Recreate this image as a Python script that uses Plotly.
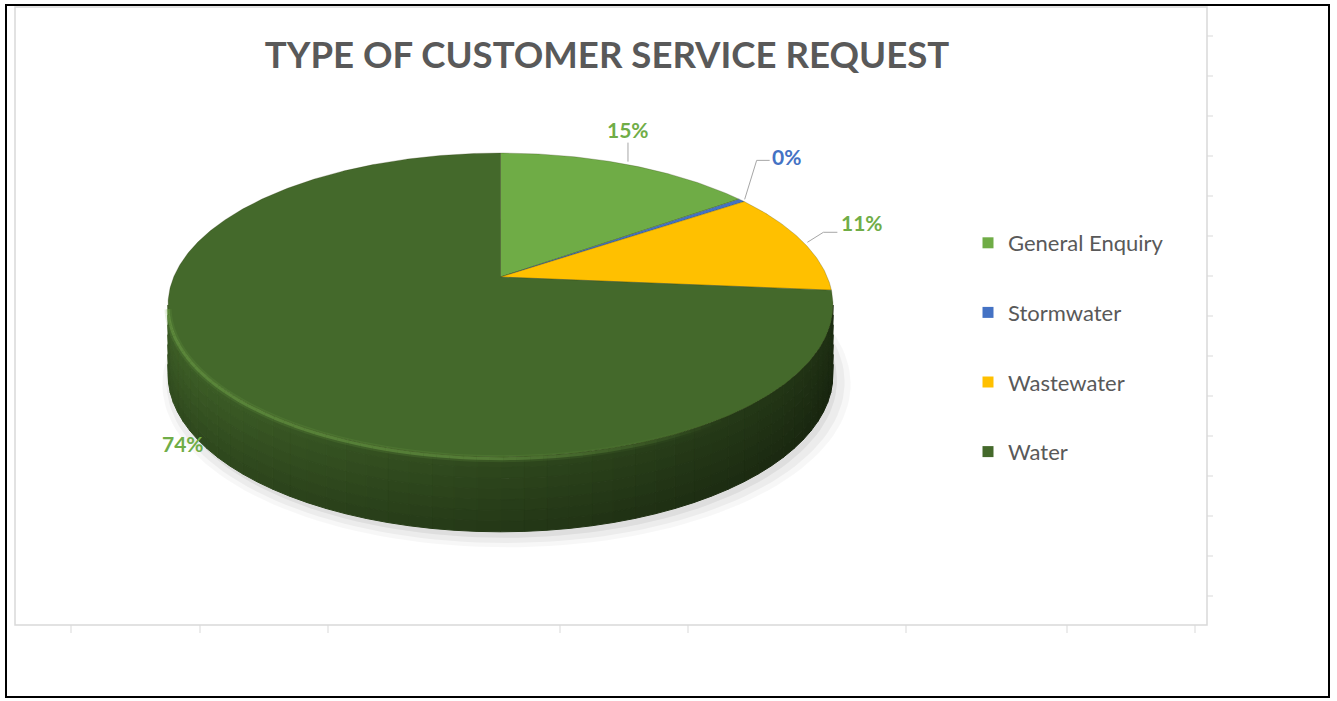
import math
import numpy as np
import plotly.graph_objects as go

# ---------------- data ----------------
categories = ["General Enquiry", "Stormwater", "Wastewater", "Water"]
values = [15.0, 0.4, 11.0, 73.6]
slice_colors = ["#6FAC46", "#4472C4", "#FFC000", "#44692B"]
label_colors = ["#70AD47", "#4472C4", "#70AD47", "#70AD47"]

# ---------------- style / geometry (pixel space) ----------------
W, H = 1337, 701
CX, CY = 500.5, 305.0      # centre of the top-face ellipse
RX, RY = 332.5, 152.0      # semi-axes of the top-face ellipse
K = 0.184                  # perspective strength
DEPTH = 68.0               # side thickness
A_NORM = 1.0 / math.sqrt(1 - K * K)

# label layout relative to the slice anchor point on the rim: (leader points, text offset)
label_layout = [
    ([(0, -3), (0, -22)], (0, -35)),
    ([(3, -1), (15, -40), (28, -40)], (45, -44)),
    ([(5, 1), (21, -9), (35, -9)], (60, -19)),
    ([], (-42, 53)),
]


def proj(theta_deg, rim=1.0, down=0.0):
    th = math.radians(theta_deg)
    u, v = rim * math.sin(th), rim * math.cos(th)
    w = 1 + K * v
    s = u / w
    t = (v + K) / w
    x = CX + RX * s / A_NORM
    y = CY - RY * t
    depth = down * (1 - 0.1 * v)
    return x, y + depth


def hexrgb(h):
    h = h.lstrip("#")
    return tuple(int(h[i:i + 2], 16) for i in (0, 2, 4))


def shade(h, f):
    r, g, b = hexrgb(h)
    return "rgb(%d,%d,%d)" % (min(255, r * f), min(255, g * f), min(255, b * f))


total = sum(values)
bounds = [0.0]
for v in values:
    bounds.append(bounds[-1] + 360.0 * v / total)

fig = go.Figure()

# ---- soft shadow ----
for grow, dx, dy, op in [(1.035, 6, 10, 0.03), (1.02, 5, 8, 0.045), (1.0, 4, 6, 0.06)]:
    xs, ys = [], []
    for a in np.linspace(0, 360, 181):
        x, y = proj(a, rim=1.0, down=DEPTH)
        xs.append(CX + (x - CX) * grow + dx)
        ys.append(CY + DEPTH + (y - CY - DEPTH) * grow + dy)
    fig.add_trace(go.Scatter(x=xs, y=ys, fill="toself", mode="lines",
                             line=dict(width=0), fillcolor="rgba(0,0,0,%.3f)" % op,
                             hoverinfo="skip", showlegend=False))

# ---- side of the cylinder (visible front part), shaded strips ----
samp = np.linspace(0, 360, 3601)
xs_rim = [proj(a)[0] for a in samp]
th_r = samp[int(np.argmax(xs_rim))]
th_l = samp[int(np.argmin(xs_rim))]
N = 48
edges = np.linspace(th_r, th_l, N + 1)
NB = 7
band_edges = np.linspace(0, 1, NB + 1)


def slice_at(theta):
    for i in range(len(values)):
        if bounds[i] <= theta % 360 < bounds[i + 1]:
            return i
    return len(values) - 1


for i in range(N):
    a0, a1 = edges[i], edges[i + 1]
    am = 0.5 * (a0 + a1)
    idx = slice_at(am)
    f = 0.45 + 0.5 * ((-math.sin(math.radians(am))) + 1) / 2
    arc = np.linspace(a0, a1, 4)
    for j in range(NB):
        b0, b1 = band_edges[j], band_edges[j + 1]
        g = 1.0 - 0.24 * (0.5 * (b0 + b1))
        top = [proj(a, down=DEPTH * b0) for a in arc]
        bot = [proj(a, down=DEPTH * b1) for a in arc[::-1]]
        pts = top + bot + [top[0]]
        col = shade(slice_colors[idx], f * g)
        fig.add_trace(go.Scatter(x=[p[0] for p in pts], y=[p[1] for p in pts],
                                 fill="toself", mode="lines", fillcolor=col,
                                 line=dict(width=1, color=col),
                                 hoverinfo="skip", showlegend=False))

# ---- top face slices ----
cx0, cy0 = proj(0, rim=0.0)
for i, cat in enumerate(categories):
    arc = np.linspace(bounds[i], bounds[i + 1], max(3, int((bounds[i + 1] - bounds[i]) * 2) + 2))
    pts = [(cx0, cy0)] + [proj(a) for a in arc] + [(cx0, cy0)]
    fig.add_trace(go.Scatter(x=[p[0] for p in pts], y=[p[1] for p in pts],
                             fill="toself", mode="lines", fillcolor=slice_colors[i],
                             line=dict(width=0.8, color="rgba(40,50,10,0.3)"),
                             hoverinfo="skip", showlegend=False, name=cat))

# ---- rim highlight (bevel), fading towards the right ----
hl_angles = np.linspace(145, th_l - 1, 60)
for k in range(len(hl_angles) - 1):
    seg = [proj(a, down=1.5) for a in np.linspace(hl_angles[k], hl_angles[k + 1], 3)]
    fade = min(1.0, (k + 1) / 20.0)
    for wdt, op in [(7, 0.16), (3, 0.45)]:
        fig.add_trace(go.Scatter(x=[p[0] for p in seg], y=[p[1] for p in seg], mode="lines",
                                 line=dict(width=wdt, color="#74A84C"), opacity=op * fade,
                                 hoverinfo="skip", showlegend=False))

# ---- data labels with leader lines ----
annotations = []
for i, cat in enumerate(categories):
    mid = 0.5 * (bounds[i] + bounds[i + 1])
    ax_, ay_ = proj(mid)
    leader, toff = label_layout[i]
    if leader:
        fig.add_trace(go.Scatter(x=[ax_ + p[0] for p in leader], y=[ay_ + p[1] for p in leader],
                                 mode="lines", line=dict(width=1, color="#A6A6A6"),
                                 hoverinfo="skip", showlegend=False))
    pct = round(100 * values[i] / total)
    annotations.append(dict(x=ax_ + toff[0], y=ay_ + toff[1], xref="x", yref="y",
                            text="<b>%d%%</b>" % pct, showarrow=False,
                            font=dict(family="Lato, Noto Sans, sans-serif", size=21,
                                      color=label_colors[i]),
                            xanchor="center", yanchor="middle"))

# ---- legend entries ----
for i, cat in enumerate(categories):
    fig.add_trace(go.Scatter(x=[None], y=[None], mode="markers", name=cat,
                             legendgroup=cat,
                             marker=dict(symbol="square", size=11, color=slice_colors[i],
                                         line=dict(width=0))))

# ---- frame / chart-area decorations ----
shapes = []
shapes.append(dict(type="rect", xref="x", yref="y", x0=15, y0=7, x1=1207, y1=625,
                   line=dict(color="#D9D9D9", width=1.5), layer="below"))
for tx in [71, 200, 328, 560, 688, 906, 1067, 1195]:
    shapes.append(dict(type="line", xref="x", yref="y", x0=tx, x1=tx, y0=625, y1=633,
                       line=dict(color="#D9D9D9", width=1)))
for ty in range(36, 620, 40):
    shapes.append(dict(type="line", xref="x", yref="y", x0=1207, x1=1213, y0=ty, y1=ty,
                       line=dict(color="#D9D9D9", width=1)))
shapes.append(dict(type="rect", xref="x", yref="y", x0=6, y0=5, x1=1329, y1=697,
                   line=dict(color="#000000", width=2)))

fig.update_layout(
    width=W, height=H,
    margin=dict(l=0, r=0, t=0, b=0),
    paper_bgcolor="white", plot_bgcolor="white",
    xaxis=dict(range=[0, W], visible=False, fixedrange=True),
    yaxis=dict(range=[H, 0], visible=False, fixedrange=True),
    title=dict(text="<b>TYPE OF CUSTOMER SERVICE REQUEST</b>",
               x=607 / W, y=1 - 55 / H, xanchor="center", yanchor="middle",
               font=dict(family="Lato, Noto Sans, sans-serif", size=36.6, color="#595959")),
    legend=dict(x=968 / W, y=1 - 222 / H, xanchor="left", yanchor="top",
                traceorder="grouped", tracegroupgap=38,
                font=dict(family="Lato, Noto Sans, sans-serif", size=22, color="#595959"),
                bgcolor="rgba(0,0,0,0)", itemwidth=30),
    shapes=shapes,
    annotations=annotations,
    showlegend=True,
)

fig.write_html("out.html")
